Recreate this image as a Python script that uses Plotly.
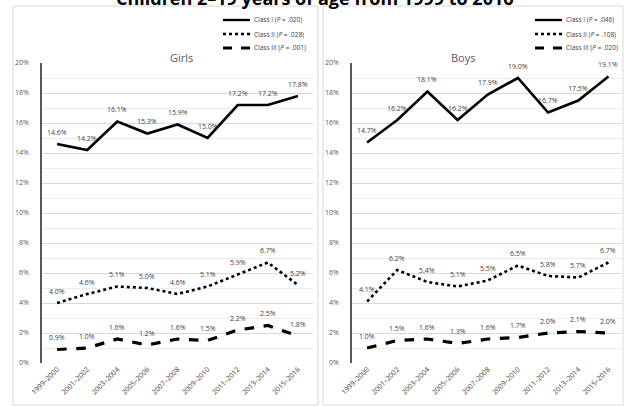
import plotly.graph_objects as go

periods = ["1999–2000", "2001–2002", "2003–2004", "2005–2006", "2007–2008",
           "2009–2010", "2011–2012", "2013–2014", "2015–2016"]

girls_c1 = [14.6, 14.2, 16.1, 15.3, 15.9, 15.0, 17.2, 17.2, 17.8]
girls_c2 = [4.0, 4.6, 5.1, 5.0, 4.6, 5.1, 5.9, 6.7, 5.2]
girls_c3 = [0.9, 1.0, 1.6, 1.2, 1.6, 1.5, 2.2, 2.5, 1.8]

boys_c1 = [14.7, 16.2, 18.1, 16.2, 17.9, 19.0, 16.7, 17.5, 19.1]
boys_c2 = [4.1, 6.2, 5.4, 5.1, 5.5, 6.5, 5.8, 5.7, 6.7]
boys_c3 = [1.0, 1.5, 1.6, 1.3, 1.6, 1.7, 2.0, 2.1, 2.0]

girls_names = ["Class I (<i>P</i> = .020)", "Class II (<i>P</i> = .028)", "Class III (<i>P</i> = .001)"]
boys_names = ["Class I (<i>P</i> = .046)", "Class II (<i>P</i> = .108)", "Class III (<i>P</i> = .020)"]

W, H = 624, 407
FONT = "Open Sans"


def px(x):
    return x / W


def py(y):
    return 1 - y / H


styles = [dict(dash="solid", width=2.6), dict(dash="dot", width=2.6), dict(dash="dash", width=3.2)]

fig = go.Figure()

panels = [
    (girls_c1, girls_c2, girls_c3, girls_names, "x", "y", 223),
    (boys_c1, boys_c2, boys_c3, boys_names, "x2", "y2", 535),
]
for c1, c2, c3, names, xa, ya, lx in panels:
    for k, (vals, name, st) in enumerate(zip([c1, c2, c3], names, styles)):
        fig.add_trace(go.Scatter(
            x=periods, y=vals, name=name, mode="lines",
            line=dict(color="black", dash=st["dash"], width=st["width"]),
            xaxis=xa, yaxis=ya, showlegend=False, cliponaxis=False,
        ))
        for p, v in zip(periods, vals):
            fig.add_annotation(x=p, y=v, xref=xa, yref=ya, text=f"{v:.1f}%",
                               showarrow=False, yshift=12,
                               font=dict(size=7, color="#404040", family=FONT))
        # manual legend entry
        ly = 20 + 14 * k
        fig.add_shape(type="line", xref="paper", yref="paper",
                      x0=px(lx), x1=px(lx + 27), y0=py(ly), y1=py(ly),
                      line=dict(color="black", dash=st["dash"], width=st["width"] * 0.9))
        fig.add_annotation(x=px(lx + 29), y=py(ly), xref="paper", yref="paper", text=name,
                           showarrow=False, xanchor="left", yanchor="middle",
                           font=dict(size=6.5, color="#404040", family=FONT))

yax = dict(range=[0, 20], dtick=2, ticksuffix="%", showgrid=True, gridcolor="#d9d9d9",
           gridwidth=1, showline=True, linecolor="#595959", linewidth=1.5,
           zeroline=False, tickfont=dict(size=7, color="#595959", family=FONT),
           ticklabelstandoff=10, ticks="", automargin=False,
           minor=dict(dtick=1, showgrid=True, gridcolor="#ececec", gridwidth=1),
           domain=[py(363), py(63)])
xax = dict(type="category", tickangle=-45, showgrid=False, showline=False, zeroline=False,
           tickfont=dict(size=7, color="#404040", family=FONT), ticks="", range=[-0.5, 8.5],
           automargin=False)

fig.update_layout(
    width=W, height=H, margin=dict(l=0, r=0, t=0, b=0, autoexpand=False),
    paper_bgcolor="white", plot_bgcolor="white",
    xaxis=dict(xax, domain=[px(42), px(313)], anchor="y"),
    yaxis=dict(yax, anchor="x"),
    xaxis2=dict(xax, domain=[px(352), px(622)], anchor="y2", range=[-0.5, 8.45]),
    yaxis2=dict(yax, anchor="x2"),
    showlegend=False,
)

# panel frames
fig.add_shape(type="rect", xref="paper", yref="paper", x0=px(13), x1=px(318), y0=py(405), y1=py(6),
              line=dict(color="#d9d9d9", width=1), layer="below")
fig.add_shape(type="rect", xref="paper", yref="paper", x0=px(323), x1=px(623), y0=py(405), y1=py(6),
              line=dict(color="#d9d9d9", width=1), layer="below")

# panel subtitles
fig.add_annotation(text="Girls", x=px(168), y=py(48), xref="paper", yref="paper",
                   showarrow=False, font=dict(size=11, color="#595959", family=FONT))
fig.add_annotation(text="Boys", x=px(477), y=py(48), xref="paper", yref="paper",
                   showarrow=False, font=dict(size=11, color="#595959", family=FONT))

# cut-off main title
fig.add_annotation(text="<b>Children 2–19 years of age from 1999 to 2016</b>", x=px(315), y=py(-2),
                   xref="paper", yref="paper", showarrow=False, yanchor="middle",
                   font=dict(size=18, color="black", family=FONT))

fig.write_html("out.html")
